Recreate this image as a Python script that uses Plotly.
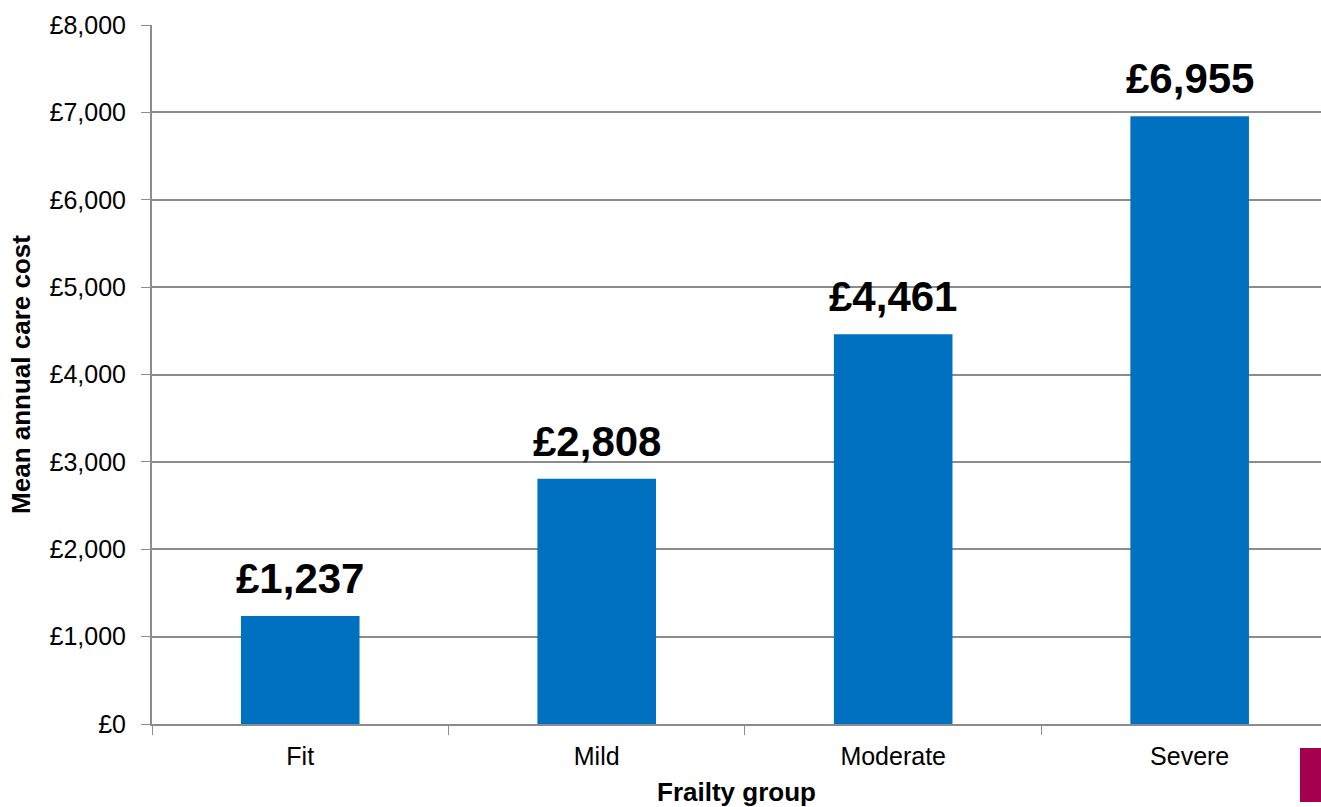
import plotly.graph_objects as go

# Mean annual care cost by frailty group
groups = ["Fit", "Mild", "Moderate", "Severe"]
costs = [1237, 2808, 4461, 6955]
y_ticks = [0, 1000, 2000, 3000, 4000, 5000, 6000, 7000, 8000]
y_tick_labels = ["£0", "£1,000", "£2,000", "£3,000", "£4,000", "£5,000", "£6,000", "£7,000", "£8,000"]

FONT = "Liberation Sans, Arial, sans-serif"
GRID = "#8c8c8c"

fig = go.Figure(
    go.Bar(
        x=groups,
        y=costs,
        width=0.4,
        marker=dict(color="#0070C0", line=dict(width=0)),
        hoverinfo="x+y",
    )
)

# Bold value labels sitting above each bar
for g, v in zip(groups, costs):
    fig.add_annotation(
        x=g,
        y=v,
        text=f"<b>£{v:,}</b>",
        showarrow=False,
        yanchor="bottom",
        yshift=12,
        font=dict(family=FONT, size=42, color="black"),
    )

fig.update_layout(
    width=1321,
    height=807,
    margin=dict(l=152, r=0, t=25, b=83),
    paper_bgcolor="white",
    plot_bgcolor="white",
    showlegend=False,
    font=dict(family=FONT, color="black"),
    xaxis=dict(
        range=[-0.5, 3.443],
        showgrid=False,
        showline=True,
        linecolor=GRID,
        linewidth=2,
        ticks="outside",
        tickson="boundaries",
        ticklen=9,
        tickcolor=GRID,
        ticklabelstandoff=9,
        tickfont=dict(size=25, family=FONT),
        title=dict(text="<b>Frailty group</b>", font=dict(size=26, family=FONT), standoff=18),
    ),
    yaxis=dict(
        range=[0, 8000],
        tickvals=y_ticks,
        ticktext=y_tick_labels,
        showgrid=True,
        gridcolor=GRID,
        gridwidth=1.5,
        showline=True,
        linecolor=GRID,
        linewidth=2,
        ticks="outside",
        ticklen=9,
        tickcolor=GRID,
        ticklabelstandoff=10,
        tickfont=dict(size=25, family=FONT),
        zeroline=False,
        title=dict(text="<b>Mean annual care cost</b>", font=dict(size=26, family=FONT), standoff=11),
    ),
    shapes=[
        dict(
            type="rect",
            xref="paper",
            yref="paper",
            x0=0.982,
            x1=1.0,
            y0=-0.1116,
            y1=-0.0343,
            fillcolor="#A50050",
            line=dict(width=0),
        )
    ],
)

fig.write_html("out.html")
